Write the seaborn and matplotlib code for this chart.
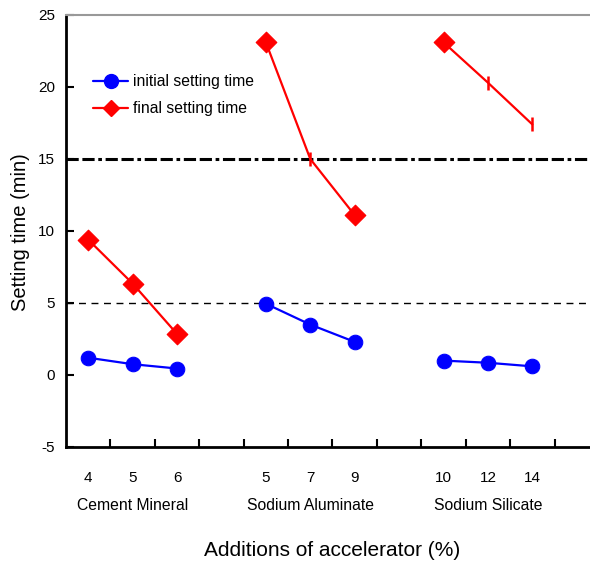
import matplotlib
matplotlib.use("Agg")
import matplotlib.pyplot as plt
import seaborn as sns
import pandas as pd
from matplotlib.lines import Line2D

# data
groups = ["Cement Mineral", "Sodium Aluminate", "Sodium Silicate"]
doses = [[4, 5, 6], [5, 7, 9], [10, 12, 14]]
initial_time = [[1.2, 0.75, 0.45], [4.95, 3.5, 2.3], [1.0, 0.85, 0.6]]
final_time = [[9.4, 6.35, 2.85], [23.1, 15.0, 11.1], [23.1, 20.3, 17.4]]
final_marks = [["D", "D", "D"], ["D", "|", "D"], ["D", "|", "|"]]
ref_lines = [15, 5]

rows = []
for g, name in enumerate(groups):
    for i, dose in enumerate(doses[g]):
        pos = g * 4 + i + 0.5
        rows.append({"group": name, "pos": pos, "dose": dose,
                     "initial": initial_time[g][i], "final": final_time[g][i],
                     "mark": final_marks[g][i]})
df = pd.DataFrame(rows)

sns.set_style("ticks", rc={"text.color": "black", "axes.labelcolor": "black",
                           "xtick.color": "black", "ytick.color": "black"})
plt.rcParams["font.family"] = ["Liberation Sans", "DejaVu Sans"]
plt.rcParams["axes.unicode_minus"] = False

fig = plt.figure(figsize=(5.9, 5.65), dpi=100)
ax = fig.add_axes([66 / 590, 118 / 565, 533 / 590, 432 / 565])

ax.axhline(ref_lines[0], color="black", lw=2.2, ls=(0, (4, 1.2, 4, 1.2, 1.2, 1.2)), zorder=1)
ax.axhline(ref_lines[1], color="black", lw=1.0, ls=(0, (5, 4)), zorder=1)

sns.lineplot(data=df, x="pos", y="initial", units="group", estimator=None,
             color="#0000ff", lw=1.6, marker="o", markersize=10.5,
             markeredgecolor="#0000ff", ax=ax, legend=False, zorder=3)
sns.lineplot(data=df, x="pos", y="final", units="group", estimator=None,
             color="#ff0000", lw=1.6, ax=ax, legend=False, zorder=3)
sns.scatterplot(data=df[df["mark"] == "D"], x="pos", y="final", marker="D",
                s=110, color="#ff0000", edgecolor="#ff0000", ax=ax,
                legend=False, zorder=4)
sns.scatterplot(data=df[df["mark"] == "|"], x="pos", y="final", marker="|",
                s=110, color="#ff0000", linewidth=1.8, ax=ax,
                legend=False, zorder=4)

ax.set_xlim(0, 12)
ax.set_ylim(-5, 25)
ax.set_yticks(range(-5, 26, 5))
ax.set_xticks(range(1, 12))
ax.set_xticklabels([])
ax.set_xticks(df["pos"], minor=True)
ax.set_xticklabels([str(d) for d in df["dose"]], minor=True)
ax.tick_params(axis="x", which="major", direction="in", length=6, width=1.5)
ax.tick_params(axis="x", which="minor", length=0, pad=17, labelsize=11)
ax.tick_params(axis="y", direction="in", length=6, width=1.5, pad=8, labelsize=11)

for name, grp in df.groupby("group", sort=False):
    ax.text(grp["pos"].mean(), -0.135, name, transform=ax.get_xaxis_transform(),
            ha="center", va="center", fontsize=11.3)

ax.set_xlabel("")
ax.set_ylabel("")
fig.text(332 / 590, 1 - 551 / 565, "Additions of accelerator (%)",
         ha="center", va="center", fontsize=15)
fig.text(20.5 / 590, 1 - 232 / 565, "Setting time (min)", rotation=90,
         ha="center", va="center", fontsize=14.5)

for side in ("left", "bottom"):
    ax.spines[side].set_linewidth(2)
    ax.spines[side].set_color("black")
ax.spines["top"].set_color("#999999")
ax.spines["top"].set_linewidth(1.5)
ax.spines["right"].set_visible(False)

handles = [
    Line2D([], [], color="#0000ff", lw=1.6, marker="o", markersize=10),
    Line2D([], [], color="#ff0000", lw=1.6, marker="D", markersize=8.5),
]
ax.legend(handles, ["initial setting time", "final setting time"],
          loc="upper left", bbox_to_anchor=(0.025, 0.895), frameon=False,
          fontsize=11.3, handlelength=2.2, handletextpad=0.3, labelspacing=0.75)

fig.savefig("out.png", dpi=100)
